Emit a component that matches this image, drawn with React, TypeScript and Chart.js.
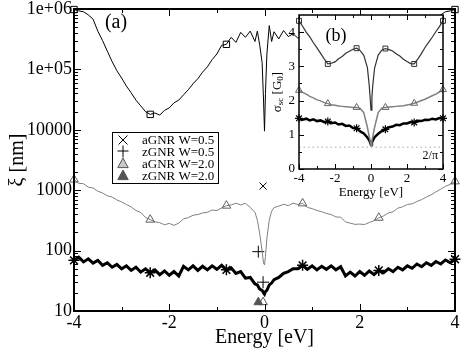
import React, { useEffect, useRef } from "react";
import { Chart, registerables } from "chart.js";

Chart.register(...registerables);

const FONT = "'Liberation Serif', 'Times New Roman', Times, serif";

// ---------- main panel (a): localization length xi [nm] vs energy [eV] ----------
const energyMain = [
  -4.0, -3.9, -3.8, -3.7, -3.6, -3.5, -3.4, -3.3, -3.2, -3.1,
  -3.0, -2.9, -2.8, -2.7, -2.6, -2.5, -2.4, -2.3, -2.2, -2.1,
  -2.0, -1.9, -1.8, -1.7, -1.6, -1.5, -1.4, -1.3, -1.2, -1.1,
  -1.0, -0.9, -0.8, -0.7, -0.6, -0.5, -0.4, -0.3, -0.2, -0.15,
  -0.1, -0.05, -0.02, 0, 0.02, 0.05, 0.1, 0.15, 0.2, 0.3,
  0.4, 0.5, 0.6, 0.7, 0.8, 0.9, 1.0, 1.1, 1.2, 1.3,
  1.4, 1.5, 1.6, 1.7, 1.8, 1.9, 2.0, 2.1, 2.2, 2.3,
  2.4, 2.5, 2.6, 2.7, 2.8, 2.9, 3.0, 3.1, 3.2, 3.3,
  3.4, 3.5, 3.6, 3.7, 3.8, 3.9, 4.0,
];

const xiSquare = [
  9.8e5, 9.3e5, 9.0e5, 8.0e5, 6.8e5, 4.3e5, 3.0e5, 2.0e5, 1.35e5, 9.5e4,
  7.2e4, 5.3e4, 4.1e4, 3.1e4, 2.5e4, 2.0e4, 1.8e4, 1.9e4, 1.75e4, 2.1e4,
  2.3e4, 2.8e4, 3.1e4, 3.8e4, 4.6e4, 5.8e4, 7.0e4, 9.0e4, 1.1e5, 1.45e5,
  1.8e5, 2.5e5, 2.6e5, 3.4e5, 2.8e5, 4.1e5, 3.4e5, 4.3e5, 2.9e5, 4.3e5,
  2.5e5, 1.3e5, 3.0e4, 9.5e3, 4.0e4, 1.8e5, 5.3e5, 2.9e5, 4.2e5, 3.2e5,
  4.4e5, 3.5e5, 3.9e5, 3.3e5, 3.5e5, 2.6e5, 1.9e5, 1.5e5, 1.2e5, 8.8e4,
  7.2e4, 5.7e4, 4.6e4, 3.8e4, 3.0e4, 2.7e4, 2.2e4, 1.9e4, 1.8e4, 1.85e4,
  1.8e4, 2.0e4, 2.5e4, 3.2e4, 4.1e4, 5.4e4, 7.3e4, 9.6e4, 1.35e5, 2.0e5,
  3.0e5, 4.4e5, 6.8e5, 8.0e5, 9.0e5, 9.3e5, 9.8e5,
];

const xiTriangle = [
  1500, 1300, 1280, 1120, 1090, 960, 900, 810, 770, 690,
  640, 580, 530, 460, 430, 355, 325, 300, 290, 268,
  282, 262, 285, 335, 352, 385, 395, 420, 430, 470,
  460, 510, 555, 570, 610, 570, 605, 520, 430, 320,
  190, 98, 62, 58, 80, 160, 320, 450, 515, 545,
  585, 555, 610, 580, 605, 520, 495, 462, 440, 412,
  395, 360, 358, 298, 285, 272, 275, 270, 292, 312,
  350, 375, 420, 440, 505, 530, 580, 595, 650, 700,
  770, 840, 940, 1040, 1160, 1250, 1400,
];

const xiStar = [
  69, 78, 65, 73, 62, 69, 57, 63, 53, 59,
  50, 56, 47, 53, 44, 50, 43, 48, 40, 46,
  39, 45, 38, 55, 48, 56, 47, 55, 48, 56,
  49, 57, 48, 52, 42, 45, 35, 36, 28, 27,
  23, 22, 20, 19, 21, 22, 27, 29, 33, 36,
  42, 45, 50, 50, 57, 49, 56, 48, 55, 49,
  56, 48, 54, 38, 44, 38, 45, 39, 46, 40,
  47, 43, 50, 45, 53, 48, 56, 51, 60, 54,
  63, 57, 66, 60, 70, 63, 72,
];

// isolated points near E = 0
const aGNR05Energy = [-0.03];
const aGNR05Xi = [1170];
const zGNR05Energy = [-0.13, -0.03];
const zGNR05Xi = [96, 30];
const aGNR20ZeroEnergy = [-0.03];
const aGNR20ZeroXi = [14];
const zGNR20Energy = [-0.13];
const zGNR20Xi = [14];

const markerEnergies = [-4, -2.4, -0.8, 0.8, 2.4, 4];

const mainXTicks = [-4, -2, 0, 2, 4];
const mainXTickLabels = ["-4", "-2", "0", "2", "4"];
const mainYTicks = [10, 100, 1000, 10000, 100000, 1000000];
const mainYTickLabels = ["10", "100", "1000", "10000", "1e+05", "1e+06"];
const legendLabels = ["aGNR W=0.5", "zGNR W=0.5", "aGNR W=2.0", "zGNR W=2.0"];

// ---------- inset (b): sigma_sc [G0] vs energy ----------
const energyInset = [
  -4, -3.8, -3.6, -3.4, -3.2, -3, -2.8, -2.6, -2.4, -2.2,
  -2, -1.8, -1.6, -1.4, -1.2, -1, -0.8, -0.6, -0.4, -0.2,
  -0.1, -0.05, 0, 0.05, 0.1,
  0.2, 0.4, 0.6, 0.8, 1, 1.2, 1.4, 1.6, 1.8, 2,
  2.2, 2.4, 2.6, 2.8, 3, 3.2, 3.4, 3.6, 3.8, 4,
];

const sigmaSquare = [
  4.33, 4.17, 4.0, 3.86, 3.69, 3.54, 3.38, 3.22, 3.07, 3.09,
  3.13, 3.22, 3.29, 3.38, 3.44, 3.5, 3.53, 3.46, 3.32, 2.96,
  2.45, 2.1, 1.72, 2.1, 2.45,
  2.95, 3.33, 3.47, 3.52, 3.49, 3.45, 3.37, 3.3, 3.21, 3.14,
  3.08, 3.07, 3.21, 3.37, 3.55, 3.7, 3.85, 4.01, 4.16, 4.33,
];

const sigmaTriangle = [
  2.3, 2.24, 2.19, 2.12, 2.08, 2.02, 1.99, 1.94, 1.91, 1.88,
  1.86, 1.84, 1.83, 1.82, 1.81, 1.8, 1.8, 1.77, 1.64, 1.22,
  0.95, 0.82, 0.68, 0.82, 0.95,
  1.22, 1.65, 1.78, 1.8, 1.81, 1.82, 1.83, 1.84, 1.85, 1.87,
  1.89, 1.92, 1.96, 2.0, 2.04, 2.09, 2.14, 2.19, 2.25, 2.32,
];

const sigmaStar = [
  1.48, 1.44, 1.47, 1.42, 1.45, 1.4, 1.42, 1.37, 1.39, 1.34,
  1.36, 1.3, 1.32, 1.26, 1.27, 1.2, 1.19, 1.1, 1.04, 0.92,
  0.84, 0.78, 0.7, 0.77, 0.83,
  0.93, 1.03, 1.11, 1.16, 1.22, 1.24, 1.29, 1.28, 1.33, 1.33,
  1.37, 1.36, 1.41, 1.4, 1.44, 1.43, 1.47, 1.45, 1.49, 1.48,
];

const minConductivityEnergy = [-4, 4];
const minConductivity = [0.637, 0.637]; // 2/pi

const insetXTicks = [-4, -2, 0, 2, 4];
const insetXTickLabels = ["-4", "-2", "0", "2", "4"];
const insetYTicks = [0, 1, 2, 3, 4];
const insetYTickLabels = ["0", "1", "2", "3", "4"];

// ---------- helpers ----------
const pts = (xs: number[], ys: number[]) => xs.map((x, i) => ({ x, y: ys[i] }));
const isMarker = (x: number) => markerEnergies.some((m) => Math.abs(m - x) < 1e-6);
const markerRadius = (r: number) => (ctx: any) =>
  ctx && ctx.raw && isMarker(ctx.raw.x) ? r : 0;

function drawSymbol(ctx: CanvasRenderingContext2D, kind: string, x: number, y: number, r: number, stroke: string, fill: string) {
  ctx.save();
  ctx.strokeStyle = stroke;
  ctx.fillStyle = fill;
  ctx.lineWidth = 1;
  ctx.beginPath();
  if (kind === "crossRot") {
    ctx.moveTo(x - r, y - r);
    ctx.lineTo(x + r, y + r);
    ctx.moveTo(x + r, y - r);
    ctx.lineTo(x - r, y + r);
    ctx.stroke();
  } else if (kind === "cross") {
    ctx.moveTo(x - r, y - 1);
    ctx.lineTo(x + r, y - 1);
    ctx.moveTo(x, y - r - 1);
    ctx.lineTo(x, y + r);
    ctx.stroke();
  } else {
    ctx.moveTo(x, y - r);
    ctx.lineTo(x + r * 0.87, y + r * 0.6);
    ctx.lineTo(x - r * 0.87, y + r * 0.6);
    ctx.closePath();
    ctx.fill();
    ctx.stroke();
  }
  ctx.restore();
}

type FrameCfg = {
  id: string;
  xMajor: number[];
  xMinor: number[];
  yMajor: number[];
  yMinor: number[];
  major: number;
  minor: number;
  lineWidth: number;
  fill?: string;
  extra?: (chart: any) => void;
};

function framePlugin(cfg: FrameCfg) {
  return {
    id: cfg.id,
    beforeDraw(chart: any) {
      if (!cfg.fill) return;
      const { ctx, chartArea: a } = chart;
      ctx.save();
      ctx.fillStyle = cfg.fill;
      ctx.fillRect(a.left, a.top, a.right - a.left, a.bottom - a.top);
      ctx.restore();
    },
    afterDatasetsDraw(chart: any) {
      const { ctx, chartArea: a, scales } = chart;
      const xs = scales.x;
      const ys = scales.y;
      ctx.save();
      ctx.strokeStyle = "#000";
      ctx.lineWidth = 1;
      ctx.beginPath();
      const xt = (vals: number[], len: number) => {
        vals.forEach((v) => {
          const px = Math.round(xs.getPixelForValue(v)) + 0.5;
          ctx.moveTo(px, a.bottom);
          ctx.lineTo(px, a.bottom - len);
          ctx.moveTo(px, a.top);
          ctx.lineTo(px, a.top + len);
        });
      };
      const yt = (vals: number[], len: number) => {
        vals.forEach((v) => {
          const py = Math.round(ys.getPixelForValue(v)) + 0.5;
          ctx.moveTo(a.left, py);
          ctx.lineTo(a.left + len, py);
          ctx.moveTo(a.right, py);
          ctx.lineTo(a.right - len, py);
        });
      };
      xt(cfg.xMajor, cfg.major);
      xt(cfg.xMinor, cfg.minor);
      yt(cfg.yMajor, cfg.major);
      yt(cfg.yMinor, cfg.minor);
      ctx.stroke();
      ctx.lineWidth = cfg.lineWidth;
      ctx.strokeRect(a.left, a.top, a.right - a.left, a.bottom - a.top);
      ctx.restore();
      if (cfg.extra) cfg.extra(chart);
    },
  };
}

const mainYMinor: number[] = [];
for (let d = 10; d < 1e6; d *= 10) for (let k = 2; k <= 9; k++) mainYMinor.push(k * d);

function drawMainExtras(chart: any) {
  const ctx: CanvasRenderingContext2D = chart.ctx;
  ctx.save();
  ctx.fillStyle = "#000";
  ctx.font = `20px ${FONT}`;
  ctx.textAlign = "center";
  ctx.textBaseline = "middle";
  ctx.fillText("(a)", 116, 23);

  // legend
  const bx = 112.5, by = 132.5, bw = 106, bh = 51;
  ctx.fillStyle = "#fff";
  ctx.fillRect(bx, by, bw, bh);
  ctx.strokeStyle = "#000";
  ctx.lineWidth = 1;
  ctx.strokeRect(bx, by, bw, bh);
  const rows = [140, 152, 164, 176];
  drawSymbol(ctx, "crossRot", 123, rows[0], 4.5, "#000", "#000");
  drawSymbol(ctx, "cross", 123, rows[1], 5.5, "#000", "#000");
  drawSymbol(ctx, "triangle", 123, rows[2], 6, "#555", "#c8c8c8");
  drawSymbol(ctx, "triangle", 123, rows[3], 6, "#555", "#555");
  ctx.fillStyle = "#000";
  ctx.font = `13px ${FONT}`;
  ctx.textAlign = "left";
  legendLabels.forEach((t, i) => ctx.fillText(t, 142, rows[i] + 0.5));
  ctx.restore();
}

function drawInsetExtras(chart: any) {
  const ctx: CanvasRenderingContext2D = chart.ctx;
  const a = chart.chartArea;
  ctx.save();
  ctx.fillStyle = "#000";
  ctx.font = `18px ${FONT}`;
  ctx.textAlign = "center";
  ctx.textBaseline = "middle";
  ctx.fillText("(b)", a.left + 37, a.top + 21);

  ctx.font = `12px ${FONT}`;
  ctx.textAlign = "right";
  ctx.fillText("2/\u03c0", a.right - 5, chart.scales.y.getPixelForValue(minConductivity[0]) + 9);

  // rotated y title: sigma_sc [G_0]
  ctx.translate(a.left - 21, (a.top + a.bottom) / 2);
  ctx.rotate(-Math.PI / 2);
  const parts = [
    { t: "\u03c3", f: `13px ${FONT}`, dy: 0 },
    { t: "sc", f: `9px ${FONT}`, dy: 3 },
    { t: " [G", f: `13px ${FONT}`, dy: 0 },
    { t: "0", f: `9px ${FONT}`, dy: 3 },
    { t: "]", f: `13px ${FONT}`, dy: 0 },
  ];
  let total = 0;
  parts.forEach((p) => {
    ctx.font = p.f;
    total += ctx.measureText(p.t).width;
  });
  let x = -total / 2;
  ctx.textAlign = "left";
  parts.forEach((p) => {
    ctx.font = p.f;
    ctx.fillText(p.t, x, p.dy);
    x += ctx.measureText(p.t).width;
  });
  ctx.restore();
}

function mainConfig(): any {
  return {
    type: "line",
    data: {
      datasets: [
        {
          label: "square",
          data: pts(energyMain, xiSquare),
          borderColor: "#000",
          borderWidth: 1,
          pointStyle: "rect",
          pointRadius: markerRadius(4.5),
          pointBorderColor: "#000",
          pointBackgroundColor: "rgba(0,0,0,0)",
          pointBorderWidth: 1,
          clip: false,
        },
        {
          label: "aGNR W=2.0",
          data: pts(energyMain, xiTriangle),
          borderColor: "#808080",
          borderWidth: 1,
          pointStyle: "triangle",
          pointRadius: markerRadius(5),
          pointBorderColor: "#606060",
          pointBackgroundColor: "rgba(0,0,0,0)",
          pointBorderWidth: 1,
          clip: false,
        },
        {
          label: "star",
          data: pts(energyMain, xiStar),
          borderColor: "#000",
          borderWidth: 3,
          pointStyle: "star",
          pointRadius: markerRadius(5.5),
          pointBorderColor: "#000",
          pointBackgroundColor: "#000",
          pointBorderWidth: 1.5,
          clip: false,
        },
        {
          label: "aGNR W=0.5",
          data: pts(aGNR05Energy, aGNR05Xi),
          showLine: false,
          pointStyle: "crossRot",
          pointRadius: 5,
          pointBorderColor: "#000",
          pointBorderWidth: 1,
          clip: false,
        },
        {
          label: "zGNR W=0.5",
          data: pts(zGNR05Energy, zGNR05Xi),
          showLine: false,
          pointStyle: "cross",
          pointRadius: 6,
          pointBorderColor: "#000",
          pointBorderWidth: 1,
          clip: false,
        },
        {
          label: "aGNR W=2.0 (E=0)",
          data: pts(aGNR20ZeroEnergy, aGNR20ZeroXi),
          showLine: false,
          pointStyle: "triangle",
          pointRadius: 5,
          pointBorderColor: "#555",
          pointBackgroundColor: "rgba(0,0,0,0)",
          pointBorderWidth: 1,
          clip: false,
        },
        {
          label: "zGNR W=2.0",
          data: pts(zGNR20Energy, zGNR20Xi),
          showLine: false,
          pointStyle: "triangle",
          pointRadius: 5,
          pointBorderColor: "#555",
          pointBackgroundColor: "#555",
          pointBorderWidth: 1,
          clip: false,
        },
      ],
    },
    options: {
      animation: false,
      responsive: false,
      events: [],
      layout: { padding: { left: 0, right: 8, top: 9, bottom: 0 } },
      plugins: { legend: { display: false }, tooltip: { enabled: false } },
      scales: {
        x: {
          type: "linear",
          min: -4,
          max: 4,
          afterBuildTicks: (s: any) => {
            s.ticks = mainXTicks.map((v) => ({ value: v }));
          },
          afterFit: (s: any) => {
            s.height = 39;
          },
          grid: { display: false, drawTicks: false },
          border: { display: false },
          ticks: {
            color: "#000",
            font: { family: FONT, size: 18, lineHeight: 1 },
            padding: 3,
            maxRotation: 0,
            autoSkip: false,
            callback: (v: number) => {
              const i = mainXTicks.indexOf(v);
              return i >= 0 ? mainXTickLabels[i] : "";
            },
          },
          title: {
            display: true,
            text: "Energy [eV]",
            color: "#000",
            font: { family: FONT, size: 20, lineHeight: 1.2 },
            padding: { top: 0, bottom: 0 },
          },
        },
        y: {
          type: "logarithmic",
          min: 10,
          max: 1e6,
          afterBuildTicks: (s: any) => {
            s.ticks = mainYTicks.map((v) => ({ value: v }));
          },
          afterFit: (s: any) => {
            s.width = 74;
          },
          grid: { display: false, drawTicks: false },
          border: { display: false },
          ticks: {
            color: "#000",
            font: { family: FONT, size: 18, lineHeight: 0.7 },
            padding: 2,
            autoSkip: false,
            callback: (v: number) => {
              const i = mainYTicks.indexOf(v);
              return i >= 0 ? mainYTickLabels[i] : "";
            },
          },
          title: {
            display: true,
            text: "\u03be [nm]",
            color: "#000",
            font: { family: FONT, size: 20, lineHeight: 1.2 },
            padding: { top: 6, bottom: 0 },
          },
        },
      },
    },
    plugins: [
      framePlugin({
        id: "mainFrame",
        xMajor: mainXTicks,
        xMinor: [-3, -1, 1, 3],
        yMajor: mainYTicks,
        yMinor: mainYMinor,
        major: 7,
        minor: 4,
        lineWidth: 2,
        extra: drawMainExtras,
      }),
    ],
  };
}

function insetConfig(): any {
  return {
    type: "line",
    data: {
      datasets: [
        {
          label: "2/pi",
          data: pts(minConductivityEnergy, minConductivity),
          borderColor: "#a8a8a8",
          borderWidth: 1,
          borderDash: [1.5, 3],
          pointRadius: 0,
        },
        {
          label: "square",
          data: pts(energyInset, sigmaSquare),
          borderColor: "#333",
          borderWidth: 1.2,
          pointStyle: "rect",
          pointRadius: markerRadius(3.5),
          pointBorderColor: "#333",
          pointBackgroundColor: "rgba(0,0,0,0)",
          pointBorderWidth: 1,
          clip: false,
        },
        {
          label: "aGNR W=2.0",
          data: pts(energyInset, sigmaTriangle),
          borderColor: "#808080",
          borderWidth: 1.5,
          pointStyle: "triangle",
          pointRadius: markerRadius(4),
          pointBorderColor: "#666",
          pointBackgroundColor: "rgba(0,0,0,0)",
          pointBorderWidth: 1,
          clip: false,
        },
        {
          label: "star",
          data: pts(energyInset, sigmaStar),
          borderColor: "#000",
          borderWidth: 2.5,
          pointStyle: "star",
          pointRadius: markerRadius(4),
          pointBorderColor: "#000",
          pointBorderWidth: 1.2,
          clip: false,
        },
      ],
    },
    options: {
      animation: false,
      responsive: false,
      events: [],
      layout: { padding: { left: 0, right: 20, top: 15, bottom: 0 } },
      plugins: { legend: { display: false }, tooltip: { enabled: false } },
      scales: {
        x: {
          type: "linear",
          min: -4,
          max: 4,
          afterBuildTicks: (s: any) => {
            s.ticks = insetXTicks.map((v) => ({ value: v }));
          },
          afterFit: (s: any) => {
            s.height = 31;
          },
          grid: { display: false, drawTicks: false },
          border: { display: false },
          ticks: {
            color: "#000",
            font: { family: FONT, size: 13, lineHeight: 1 },
            padding: 3,
            maxRotation: 0,
            autoSkip: false,
            callback: (v: number) => {
              const i = insetXTicks.indexOf(v);
              return i >= 0 ? insetXTickLabels[i] : "";
            },
          },
          title: {
            display: true,
            text: "Energy [eV]",
            color: "#000",
            font: { family: FONT, size: 13, lineHeight: 1.2 },
            padding: { top: 0, bottom: 0 },
          },
        },
        y: {
          type: "linear",
          min: 0,
          max: 4.5,
          afterBuildTicks: (s: any) => {
            s.ticks = insetYTicks.map((v) => ({ value: v }));
          },
          afterFit: (s: any) => {
            s.width = 44;
          },
          grid: { display: false, drawTicks: false },
          border: { display: false },
          ticks: {
            color: "#000",
            font: { family: FONT, size: 13, lineHeight: 0.7 },
            padding: 4,
            autoSkip: false,
            callback: (v: number) => {
              const i = insetYTicks.indexOf(v);
              return i >= 0 ? insetYTickLabels[i] : "";
            },
          },
        },
      },
    },
    plugins: [
      framePlugin({
        id: "insetFrame",
        xMajor: insetXTicks,
        xMinor: [-3, -1, 1, 3],
        yMajor: insetYTicks,
        yMinor: [0.5, 1.5, 2.5, 3.5],
        major: 5,
        minor: 3,
        lineWidth: 1.5,
        fill: "#fff",
        extra: drawInsetExtras,
      }),
    ],
  };
}

export default function App() {
  const mainRef = useRef<HTMLCanvasElement>(null);
  const insetRef = useRef<HTMLCanvasElement>(null);

  useEffect(() => {
    const main = new Chart(mainRef.current as HTMLCanvasElement, mainConfig());
    const inset = new Chart(insetRef.current as HTMLCanvasElement, insetConfig());
    return () => {
      main.destroy();
      inset.destroy();
    };
  }, []);

  return (
    <div style={{ position: "fixed", left: 0, top: 0, width: 463, height: 350, background: "#fff" }}>
      <canvas
        ref={mainRef}
        width={463}
        height={350}
        style={{ position: "absolute", left: 0, top: 0, width: 463, height: 350 }}
      />
      <canvas
        ref={insetRef}
        width={208}
        height={200}
        style={{ position: "absolute", left: 255, top: 0, width: 208, height: 200 }}
      />
    </div>
  );
}
